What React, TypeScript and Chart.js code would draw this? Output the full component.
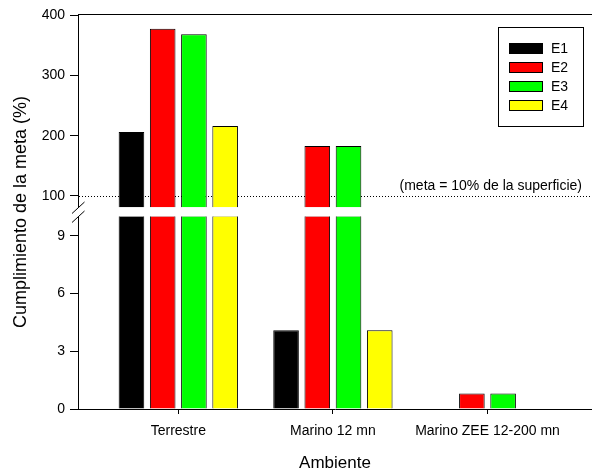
import React, { useEffect, useRef } from 'react';
import { Chart, registerables } from 'chart.js';

Chart.register(...registerables);

// ---- data ----
const categories = ['Terrestre', 'Marino 12 mn', 'Marino ZEE 12-200 mn'];
const seriesNames = ['E1', 'E2', 'E3', 'E4'];
const seriesColors = ['#000000', '#ff0000', '#00ff00', '#ffff00'];
const e1Values = [206, 4.1, 0];
const e2Values = [377, 183, 0.81];
const e3Values = [368, 183, 0.81];
const e4Values = [216, 4.1, 0];
const lowerTicks = [0, 3, 6, 9];
const upperTicks = [100, 200, 300, 400];
const metaValue = 100;
const metaLabel = '(meta = 10% de la superficie)';
const xTitle = 'Ambiente';
const yTitle = 'Cumplimiento de la meta (%)';

// axis ranges for the broken y axis
const LOW_MIN = 0;
const LOW_MAX = 10.06;
const HIGH_MIN = 80.9;
const HIGH_MAX = 400;

const FONT = "'Liberation Sans', Arial, sans-serif";

const seriesValues = [e1Values, e2Values, e3Values, e4Values];

function buildDatasets() {
  const ds: any[] = [];
  seriesValues.forEach((vals, s) => {
    const common = {
      label: seriesNames[s],
      stack: seriesNames[s],
      backgroundColor: seriesColors[s],
      borderColor: '#000000',
      borderWidth: 1,
      borderSkipped: 'start',
      categoryPercentage: 0.808,
      barPercentage: 0.82,
    };
    ds.push({
      ...common,
      yAxisID: 'yLow',
      data: vals.map((v, i) => ({ x: i + 1, y: Math.min(v, LOW_MAX) })),
    });
    ds.push({
      ...common,
      yAxisID: 'yHigh',
      base: HIGH_MIN,
      data: vals.map((v, i) => ({ x: i + 1, y: v > HIGH_MIN ? v : null })),
    });
  });
  return ds;
}

const decorPlugin = {
  id: 'decor',
  beforeDatasetsDraw(chart: any) {
    const { ctx, chartArea } = chart;
    const yHigh = chart.scales.yHigh;
    const y = Math.round(yHigh.getPixelForValue(metaValue)) + 0.5;
    ctx.save();
    ctx.strokeStyle = '#000';
    ctx.lineWidth = 1;
    ctx.setLineDash([1, 2]);
    ctx.beginPath();
    ctx.moveTo(chartArea.left + 1, y);
    ctx.lineTo(chartArea.right, y);
    ctx.stroke();
    ctx.restore();
  },
  afterDatasetsDraw(chart: any) {
    const { ctx, chartArea } = chart;
    const yHigh = chart.scales.yHigh;
    const yLow = chart.scales.yLow;
    ctx.save();
    // white break band
    ctx.fillStyle = '#ffffff';
    ctx.fillRect(chartArea.left - 1, yHigh.bottom, chartArea.right - chartArea.left + 2, yLow.top - yHigh.bottom + 1);
    // break marks
    ctx.strokeStyle = '#000';
    ctx.lineWidth = 1;
    const lx = chartArea.left;
    const marks = [yHigh.bottom, yLow.top + 1];
    marks.forEach((cy) => {
      ctx.beginPath();
      ctx.moveTo(lx - 6, cy + 6);
      ctx.lineTo(lx + 6.5, cy - 5.5);
      ctx.stroke();
    });
    ctx.restore();
  },
  afterDraw(chart: any) {
    const { ctx, chartArea } = chart;
    const yHigh = chart.scales.yHigh;
    ctx.save();
    // top frame line
    ctx.strokeStyle = '#000';
    ctx.lineWidth = 1;
    ctx.beginPath();
    ctx.moveTo(chartArea.left, chartArea.top - 0.5);
    ctx.lineTo(chartArea.right, chartArea.top - 0.5);
    ctx.stroke();

    // meta label
    ctx.fillStyle = '#000';
    ctx.font = `14px ${FONT}`;
    ctx.textAlign = 'right';
    ctx.textBaseline = 'alphabetic';
    ctx.fillText(metaLabel, 582, yHigh.getPixelForValue(metaValue) - 5.5);

    // axis titles
    ctx.font = `17px ${FONT}`;
    ctx.textAlign = 'center';
    ctx.fillText(xTitle, (chartArea.left + chartArea.right) / 2, 468);
    ctx.font = `18px ${FONT}`;
    ctx.save();
    ctx.translate(26, (chartArea.top + chartArea.bottom) / 2);
    ctx.rotate(-Math.PI / 2);
    ctx.fillText(yTitle, 0, 0);
    ctx.restore();

    // legend
    ctx.strokeRect(498.5, 27.5, 85, 99);
    ctx.font = `14px ${FONT}`;
    ctx.textAlign = 'left';
    ctx.textBaseline = 'middle';
    seriesNames.forEach((name, i) => {
      const cy = 48.5 + 19 * i;
      const top = Math.round(cy - 5.5);
      ctx.fillStyle = seriesColors[i];
      ctx.fillRect(509, top, 34, 11);
      ctx.strokeStyle = '#000';
      ctx.strokeRect(509.5, top + 0.5, 33, 10);
      ctx.fillStyle = '#000';
      ctx.fillText(name, 551, cy + 0.5);
    });
    ctx.restore();
  },
};

export default function App() {
  const ref = useRef<HTMLCanvasElement>(null);
  useEffect(() => {
    document.body.style.margin = '0';
    Chart.defaults.font.family = FONT;
    Chart.defaults.color = '#000';
    const gridOpts = (len: number) => ({
      display: true,
      drawOnChartArea: false,
      drawTicks: true,
      tickLength: len,
      color: '#000',
      tickColor: '#000',
      offset: false,
    });
    const chart = new Chart(ref.current as HTMLCanvasElement, {
      type: 'bar',
      data: { datasets: buildDatasets() },
      options: {
        responsive: false,
        devicePixelRatio: 1,
        animation: false,
        events: [],
        layout: { padding: { top: 15, right: 0, bottom: 0, left: 0 } },
        plugins: { legend: { display: false }, tooltip: { enabled: false }, title: { display: false } },
        scales: {
          x: {
            type: 'linear',
            min: 0.3512,
            max: 3.676,
            offset: false,
            grid: gridOpts(5),
            border: { display: true, color: '#000', width: 1 },
            ticks: {
              color: '#000',
              font: { size: 14, family: FONT },
              padding: 9,
              autoSkip: false,
              maxRotation: 0,
              callback: (v: any) => categories[Math.round(v) - 1] ?? '',
            },
            afterBuildTicks: (s: any) => {
              s.ticks = categories.map((_, i) => ({ value: i + 1 }));
            },
            afterFit: (s: any) => {
              s.height = 60;
            },
          },
          yLow: {
            type: 'linear',
            position: 'left',
            stack: 'v',
            stackWeight: 193.5,
            stacked: false,
            min: LOW_MIN,
            max: LOW_MAX,
            grid: gridOpts(8),
            border: { display: true, color: '#000', width: 1 },
            ticks: { color: '#000', font: { size: 14, family: FONT }, padding: 5 },
            afterBuildTicks: (s: any) => {
              s.ticks = lowerTicks.map((v) => ({ value: v }));
            },
            afterFit: (s: any) => {
              s.width = 78;
            },
          },
          yGap: {
            type: 'linear',
            position: 'left',
            stack: 'v',
            stackWeight: 8,
            display: false,
            min: 0,
            max: 1,
            afterFit: (s: any) => {
              s.width = 78;
            },
          },
          yHigh: {
            type: 'linear',
            position: 'left',
            stack: 'v',
            stackWeight: 192.5,
            stacked: false,
            min: HIGH_MIN,
            max: HIGH_MAX,
            grid: gridOpts(8),
            border: { display: true, color: '#000', width: 1 },
            ticks: { color: '#000', font: { size: 14, family: FONT }, padding: 5 },
            afterBuildTicks: (s: any) => {
              s.ticks = upperTicks.map((v) => ({ value: v }));
            },
            afterFit: (s: any) => {
              s.width = 78;
            },
          },
        },
      } as any,
      plugins: [decorPlugin],
    });
    return () => chart.destroy();
  }, []);
  return (
    <div style={{ position: 'absolute', left: 0, top: 0, width: 592, height: 469 }}>
      <canvas ref={ref} width={592} height={469} style={{ display: 'block', width: 592, height: 469 }} />
    </div>
  );
}
